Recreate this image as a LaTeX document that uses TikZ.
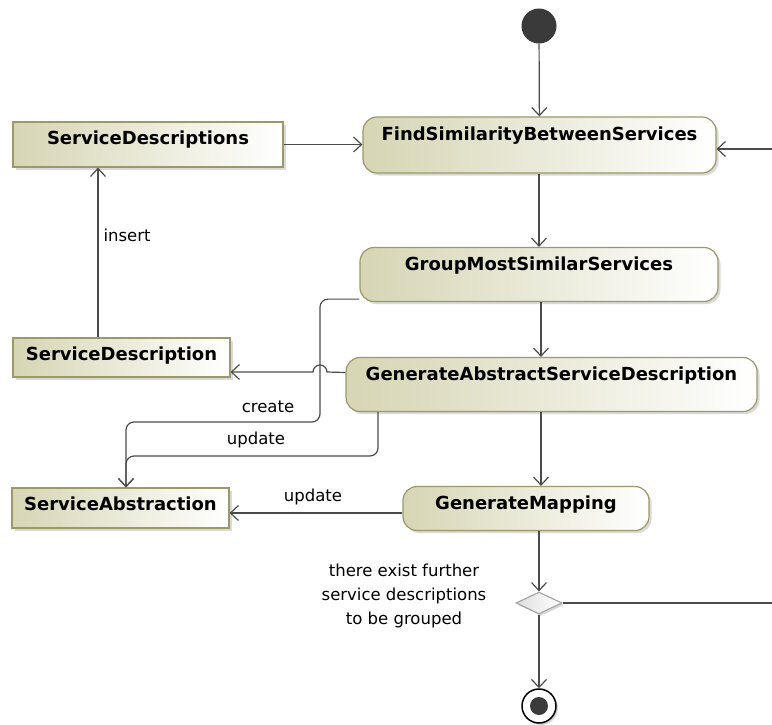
\documentclass[tikz,border=0pt]{standalone}
\usepackage{fontspec}
\setmainfont{DejaVu Sans}
\usetikzlibrary{arrows.meta,shapes.geometric,shadows}
\definecolor{boxolive}{RGB}{214,213,180}
\definecolor{boxline}{RGB}{155,153,104}
\definecolor{flowgrey}{RGB}{75,75,75}
\definecolor{nodedark}{RGB}{58,58,58}
\newcommand\boxfont{\fontsize{18}{20}\selectfont\bfseries}
\newcommand\labfont{\fontsize{16.5}{24}\selectfont}

\begin{document}
\begin{tikzpicture}[x=1pt,y=1pt,
  act/.style={draw=boxline,line width=1.2pt,rounded corners=14pt,left color=boxolive,right color=white,
    font=\boxfont,anchor=base,inner xsep=0pt,inner ysep=10pt,text height=13pt,
    drop shadow={shadow xshift=2.5pt,shadow yshift=-2.5pt,opacity=0.3}},
  obj/.style={act,rounded corners=0pt,inner ysep=9.5pt},
  line/.style={draw=flowgrey,line width=1.2pt},
  flow/.style={line,-{Straight Barb[length=8pt,width=15pt]}},
  lab/.style={font=\labfont,inner sep=0pt}]

\useasboundingbox (0,0) rectangle (772,-724);

\node[circle,fill=nodedark,minimum size=35pt,inner sep=0pt] (start) at (539,-26) {};

\node[act,minimum width=353pt,text depth=23pt] (find) at (539.5,-140) {FindSimilarityBetweenServices};
\node[act,minimum width=358pt,text depth=21pt] (group) at (539,-270.5) {GroupMostSimilarServices};
\node[act,minimum width=411pt,text depth=21pt] (gasd) at (551.5,-380.5) {GenerateAbstractServiceDescription};
\node[act,minimum width=246pt,text depth=11pt] (gmap) at (526,-509.5) {GenerateMapping};

\node[obj,minimum width=270pt,text depth=13pt] (sds) at (148,-144.5) {ServiceDescriptions};
\node[obj,minimum width=217pt,text depth=7pt] (sd) at (121.5,-360.5) {ServiceDescription};
\node[obj,minimum width=217pt,text depth=8pt] (sa) at (120.5,-510.5) {ServiceAbstraction};

\node[diamond,draw=gray!70,line width=1.2pt,left color=gray!25,right color=white,minimum width=46pt,minimum height=22pt,inner sep=0pt,
  drop shadow={shadow xshift=2pt,shadow yshift=-2pt,opacity=0.3}] (dec) at (539,-603) {};
\node[circle,draw=black,line width=1.5pt,fill=white,minimum size=34pt,inner sep=0pt,
  drop shadow={shadow xshift=2pt,shadow yshift=-2pt,opacity=0.3}] (final) at (539,-706) {};
\fill[nodedark] (final.center) circle (9pt);

\coordinate (backin) at (772,-149);
\coordinate (backout) at (772,-603);

\draw[flow] (start) -- (find);
\draw[flow] (sds.east) -- (sds.east -| find.west);
\draw[flow] (backin) -- (backin -| find.east);
\draw[flow] (find.south -| 539,0) -- (group.north -| 539,0);
\draw[flow] (group.south -| 541,0) -- (gasd.north -| 541,0);
\draw[flow] (gasd.south -| 541,0) -- (gmap.north -| 541,0);
\draw[flow] (gmap.south -| dec) -- (dec.north);
\draw[flow] (dec) -- (final);
\draw[line] (dec.east) -- (backout);

\draw[flow] ([xshift=-23.5pt]sd.north) -- ([xshift=-23.5pt]sd.north |- sds.south)
  node[lab,pos=0.6,anchor=west,xshift=5pt] (insertlab) {insert};
\draw[flow] ([yshift=12pt]gasd.west) -- (327,-372) arc[start angle=0,end angle=180,radius=7pt] -- (sd.east |- 0,-372);
\draw[flow,rounded corners=8pt] ([yshift=3pt]group.south west) -| (320,-422) -| ([xshift=5.5pt]sa.north);
\draw[flow,rounded corners=8pt] (gasd.south -| 378,0) |- (126,-456) -- ([xshift=5.5pt]sa.north);
\draw[flow] ([yshift=-4.5pt]gmap.west) -- ([yshift=-4.5pt]gmap.west -| sa.east);

\node[lab] (createlab) at (268,-407) {create};
\node[lab] (updatelab) at (256,-440) {update};
\node[lab] (maplab) at (313,-497) {update};
\node[lab,align=center] (condlab) at (404,-596) {there exist further\\service descriptions\\to be grouped};

\end{tikzpicture}
\end{document}
